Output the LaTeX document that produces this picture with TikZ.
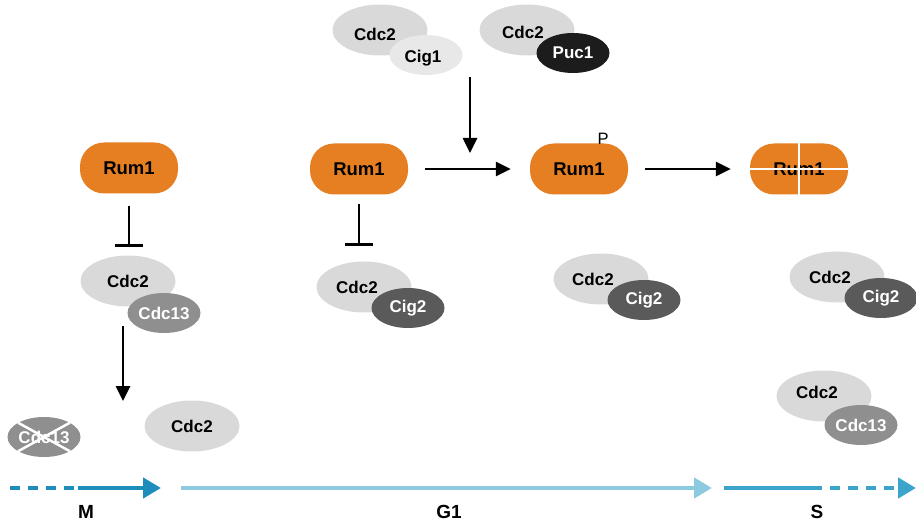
\documentclass[tikz,border=0pt]{standalone}
\usepackage{fontspec}
\setmainfont{Liberation Sans}
\usetikzlibrary{shapes.geometric,arrows.meta}

\definecolor{rumorange}{HTML}{E67E22}
\definecolor{cdclight}{HTML}{D9D9D9}
\definecolor{cdcmid}{HTML}{8F8F8F}
\definecolor{cigdark}{HTML}{5A5A5A}
\definecolor{ciglight}{HTML}{E8E8E8}
\definecolor{pucblack}{HTML}{1C1C1C}
\definecolor{phaseM}{HTML}{1E8DBC}
\definecolor{phaseG}{HTML}{8DCAE0}
\definecolor{phaseS}{HTML}{3BA4CA}

\begin{document}
\begin{tikzpicture}[x=1pt,y=-1pt,
  rum/.style={fill=rumorange, draw=none, rounded corners=24pt,
    minimum width=98pt, minimum height=51pt, inner sep=0pt,
    font=\fontsize{18.5}{21}\selectfont\bfseries},
  bigcdc/.style={ellipse, fill=cdclight, draw=none, minimum width=95pt,
    minimum height=51pt, inner sep=0pt},
  small/.style={ellipse, draw=none, minimum width=73pt, minimum height=40pt,
    inner sep=0pt, font=\fontsize{17}{20}\selectfont\bfseries},
  txt/.style={font=\fontsize{17}{20}\selectfont\bfseries, inner sep=0pt},
  phase/.style={font=\fontsize{19}{22}\selectfont\bfseries, inner sep=0pt},
  act/.style={line width=2.6pt, -{Triangle[length=15pt,width=14pt]}},
  inh/.style={line width=2.6pt, -{Bar[width=28pt,line width=2.6pt]}},
  tl/.style={line width=4.5pt},
  tlhead/.style={-{Triangle[length=18pt,width=20pt]}},
  dashtl/.style={tl, dash pattern=on 10pt off 8pt},
  cross/.style={draw=white, line width=2.5pt}
]
\useasboundingbox (0,0) rectangle (916,521);

% ---- Rum1 states ----
\node[rum] (rumA) at (129,168) {Rum1};
\node[rum] (rumB) at (359,169) {Rum1};
\node[rum] (rumC) at (579,169) {Rum1};
\node[font=\fontsize{16.5}{18}\selectfont, inner sep=0pt] (phos) at (603,139) {P};
\node[rum] (rumD) at (799,169) {Rum1};
\draw[cross] (rumD.west) -- (rumD.east);
\draw[cross] (rumD.north) -- (rumD.south);

% ---- Cdc2 / Cig1 and Cdc2 / Puc1 (top) ----
\node[bigcdc] (topcdcA) at (380,30) {};
\node[small, fill=ciglight] (cig1) at (426,55) {};
\node[txt] (topcdcAt) at (375,34) {Cdc2};
\node[txt] at (423,58) {Cig1};

\node[bigcdc] (topcdcB) at (527,30) {};
\node[small, fill=pucblack, text=white] (puc1) at (573,53) {Puc1};
\node[txt] at (523,32) {Cdc2};

% ---- Cdc2 / Cdc13 (M) ----
\node[bigcdc] (cdcM) at (128,281) {};
\node[small, fill=cdcmid, text=white] (cdc13M) at (164,313) {Cdc13};
\node[txt] at (128,281) {Cdc2};

% destroyed Cdc13 and free Cdc2
\node[small, fill=cdcmid, text=white] (cdc13x) at (44,437) {Cdc13};
\draw[cross] (cdc13x.north west) -- (cdc13x.south east);
\draw[cross] (cdc13x.south west) -- (cdc13x.north east);
\node[bigcdc, txt] (freecdc) at (192,426) {Cdc2};

% ---- Cdc2 / Cig2 complexes ----
\node[bigcdc] (cdcG1) at (364,287) {};
\node[small, fill=cigdark, text=white] (cig2G1) at (408,308) {Cig2};
\node[txt] at (357,287) {Cdc2};

\node[bigcdc] (cdcG2) at (601,279) {};
\node[small, fill=cigdark, text=white] (cig2G2) at (644,300) {Cig2};
\node[txt] at (593,279) {Cdc2};

\node[bigcdc] (cdcS) at (837,277) {};
\node[small, fill=cigdark, text=white] (cig2S) at (881,298) {Cig2};
\node[txt] at (830,277) {Cdc2};

% ---- Cdc2 / Cdc13 (S) ----
\node[bigcdc] (cdcS2) at (824,396) {};
\node[small, fill=cdcmid, text=white] (cdc13S) at (861,425) {Cdc13};
\node[txt] at (817,392) {Cdc2};

% ---- regulation arrows ----
\coordinate (kinIn) at (470,77);
\coordinate (kinOut) at (470,153);
\draw[act] (kinIn) -- (kinOut);
\draw[act] ([xshift=17pt]rumB.east) -- ([xshift=-19pt]rumC.west);
\draw[act] ([xshift=17pt]rumC.east) -- ([xshift=-19pt]rumD.west);
\draw[inh] ([yshift=-12pt]rumA.south) -- ([yshift=-53pt]rumA.south);
\draw[inh] ([yshift=-9pt]rumB.south) -- ([yshift=-51pt]rumB.south);
\coordinate (degIn) at (123,326);
\coordinate (degOut) at (123,401);
\draw[act] (degIn) -- (degOut);

% ---- cell-cycle phases ----
\coordinate (m0) at (10,488);
\coordinate (m1) at (78,488);
\coordinate (m2) at (161,488);
\coordinate (g0) at (181,488);
\coordinate (g1) at (712,488);
\coordinate (s0) at (724,488);
\coordinate (s1) at (812,488);
\coordinate (s2) at (916,488);
\draw[dashtl, draw=phaseM] (m0) -- (m1);
\draw[tl, draw=phaseM, tlhead] (m1) -- (m2);
\draw[tl, draw=phaseG, tlhead] (g0) -- (g1);
\draw[tl, draw=phaseS] (s0) -- (s1);
\draw[dashtl, draw=phaseS, tlhead] (s1) -- (s2);

\node[phase] (labM) at (86,511.5) {M};
\node[phase] (labG) at (449,511.5) {G1};
\node[phase] (labS) at (817,511.5) {S};
\end{tikzpicture}
\end{document}
